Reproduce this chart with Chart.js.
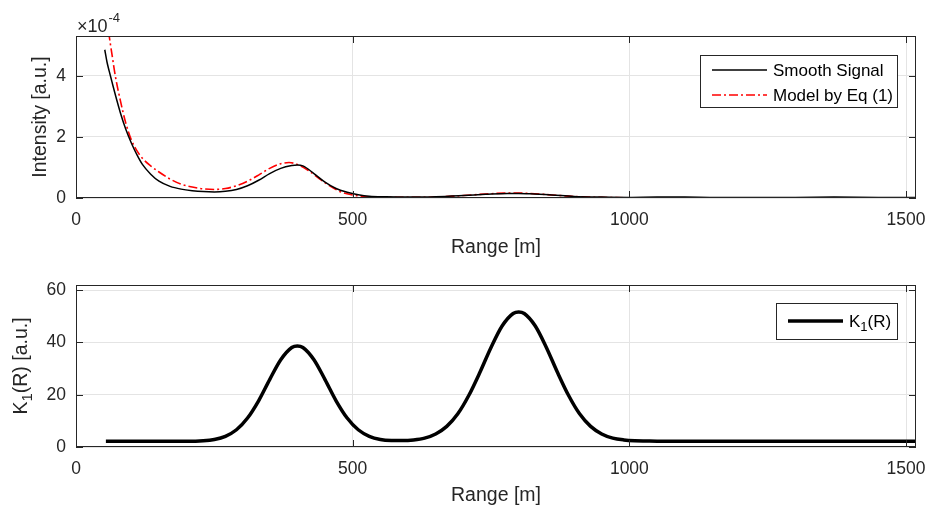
<!DOCTYPE html>
<html>
<head>
<meta charset="utf-8">
<script src="https://cdn.jsdelivr.net/npm/chart.js@4/dist/chart.umd.min.js"></script>
<style>
  html, body { margin: 0; padding: 0; background: #fff; }
  #wrap { position: relative; width: 929px; height: 506px; }
  .panel { position: absolute; left: 0; width: 929px; }
</style>
</head>
<body>
<div id="wrap">
  <div class="panel" style="top:0;height:260px"><canvas id="topChart"></canvas></div>
  <div class="panel" style="top:260px;height:246px"><canvas id="bottomChart"></canvas></div>
</div>
<script>
// --- Data ---

// Top panel: intensity, in units of 1e-4
const smoothRange = [52, 56, 60, 65, 70, 80, 90, 100, 110, 120, 135, 150, 170, 190, 210, 230, 250, 270, 290, 310,
  330, 350, 370, 390, 400, 410, 430, 450, 470, 490, 510, 530, 560, 600, 650, 700, 740, 780, 800, 820,
  860, 900, 950, 1000, 1050, 1100, 1150, 1200, 1300, 1370, 1450, 1518];
const smoothSignal = [4.85, 4.45, 4.15, 3.8, 3.45, 2.8, 2.25, 1.8, 1.42, 1.1, 0.78, 0.55, 0.38, 0.29, 0.24, 0.21, 0.2, 0.22, 0.28, 0.40,
  0.58, 0.80, 0.97, 1.06, 1.08, 1.05, 0.8, 0.52, 0.31, 0.19, 0.11, 0.06, 0.04, 0.03, 0.04, 0.08, 0.12, 0.15, 0.15, 0.14,
  0.1, 0.05, 0.03, 0.02, 0.03, 0.03, 0.02, 0.02, 0.02, 0.03, 0.02, 0.02];

const modelRange = [55, 60, 65, 71, 80, 90, 100, 110, 120, 135, 150, 170, 190, 210, 230, 250, 270, 290, 310, 330,
  350, 370, 385, 400, 420, 440, 460, 480, 500, 520, 550, 600, 650, 700, 740, 780, 800, 820, 860, 900,
  950, 1000, 1100, 1200, 1300, 1400, 1518];
const modelSignal = [6.0, 5.3, 4.7, 4.0, 3.2, 2.45, 1.9, 1.55, 1.3, 1.05, 0.85, 0.62, 0.45, 0.36, 0.3, 0.28, 0.31, 0.40, 0.55, 0.75,
  0.97, 1.12, 1.16, 1.10, 0.9, 0.63, 0.38, 0.19, 0.1, 0.05, 0.03, 0.02, 0.03, 0.08, 0.13, 0.16, 0.16, 0.15, 0.1, 0.05,
  0.02, 0.01, 0.01, 0.01, 0.01, 0.01, 0.01];

// Bottom panel: K1(R)
const k1Range = [54, 100, 150, 200, 230, 250, 270, 290, 310, 330, 350, 370, 390, 400, 410, 430, 450, 470, 490, 510,
  530, 550, 570, 590, 610, 630, 650, 670, 690, 710, 730, 750, 770, 790, 800, 810, 830, 850, 870, 890,
  910, 930, 950, 970, 990, 1010, 1030, 1060, 1200, 1350, 1518];
const k1Values = [2.2, 2.2, 2.2, 2.2, 2.4, 2.9, 4.1, 6.6, 11.1, 17.7, 25.8, 33.4, 38.1, 38.7, 38.1, 33.4, 25.8, 17.7, 11.1, 6.6,
  4.1, 2.9, 2.5, 2.45, 2.7, 3.4, 5.0, 7.9, 12.7, 19.8, 28.6, 38.1, 46.3, 51.1, 51.7, 51.1, 46.3, 38.1, 28.6, 19.8,
  12.7, 7.9, 5.0, 3.4, 2.7, 2.4, 2.3, 2.2, 2.2, 2.2, 2.2];

// Ticks
const rangeTicks = [0, 500, 1000, 1500];
const intensityTicks = [0, 2, 4];
const k1Ticks = [0, 20, 40, 60];
const intensityExponent = '-4';

// --- Shared look ---
const FONT = '"Liberation Sans", Arial, Helvetica, sans-serif';
const AXIS_COLOR = '#262626';
const GRID_COLOR = '#e4e4e4';

const toPoints = (xs, ys) => xs.map((x, i) => ({ x: x, y: ys[i] }));

// Draw text where unicode subscript digits become real lowered, smaller digits
const SUBS = '\u2080\u2081\u2082\u2083\u2084\u2085\u2086\u2087\u2088\u2089';
function fillRichText(ctx, text, x, y, size) {
  let cx = x;
  for (const ch of text) {
    const k = SUBS.indexOf(ch);
    if (k >= 0) {
      ctx.font = Math.round(size * 0.75) + 'px ' + FONT;
      ctx.fillText(String(k), cx, y + size * 0.3);
      cx += ctx.measureText(String(k)).width;
    } else {
      ctx.font = size + 'px ' + FONT;
      ctx.fillText(ch, cx, y);
      cx += ctx.measureText(ch).width;
    }
  }
  return cx - x;
}
function measureRichText(ctx, text, size) {
  ctx.save();
  let w = 0;
  for (const ch of text) {
    const k = SUBS.indexOf(ch);
    ctx.font = (k >= 0 ? Math.round(size * 0.75) : size) + 'px ' + FONT;
    w += ctx.measureText(k >= 0 ? String(k) : ch).width;
  }
  ctx.restore();
  return w;
}

// Box around the axes plus inward tick marks, MATLAB style
const matlabAxes = {
  id: 'matlabAxes',
  afterDatasetsDraw(chart) {
    const { ctx, chartArea: a, scales: { x, y } } = chart;
    const len = 7;
    ctx.save();
    ctx.strokeStyle = AXIS_COLOR;
    ctx.lineWidth = 1;
    ctx.beginPath();
    x.ticks.forEach(t => {
      const px = Math.round(x.getPixelForValue(t.value)) + 0.5;
      ctx.moveTo(px, a.bottom); ctx.lineTo(px, a.bottom - len);
      ctx.moveTo(px, a.top); ctx.lineTo(px, a.top + len);
    });
    y.ticks.forEach(t => {
      const py = Math.round(y.getPixelForValue(t.value)) + 0.5;
      ctx.moveTo(a.left, py); ctx.lineTo(a.left + len, py);
      ctx.moveTo(a.right, py); ctx.lineTo(a.right - len, py);
    });
    ctx.stroke();
    ctx.strokeRect(Math.round(a.left) + 0.5, Math.round(a.top) + 0.5,
      Math.round(a.width) - 1, Math.round(a.height) - 1);
    ctx.restore();
  }
};

// Boxed legend inside the axes, top right
const boxLegend = {
  id: 'boxLegend',
  afterDraw(chart, args, opts) {
    const { ctx, chartArea: a } = chart;
    const left = a.right - opts.right - opts.width;
    const top = a.top + opts.top;
    ctx.save();
    ctx.fillStyle = '#fff';
    ctx.fillRect(left, top, opts.width, opts.height);
    ctx.strokeStyle = AXIS_COLOR;
    ctx.lineWidth = 1;
    ctx.strokeRect(Math.round(left) + 0.5, Math.round(top) + 0.5, opts.width, opts.height);
    ctx.textBaseline = 'middle';
    ctx.fillStyle = '#000';
    chart.data.datasets.forEach((ds, i) => {
      const cy = top + opts.firstRow + i * opts.rowGap;
      ctx.save();
      ctx.strokeStyle = ds.borderColor;
      ctx.lineWidth = ds.borderWidth;
      ctx.setLineDash(ds.borderDash || []);
      ctx.beginPath();
      ctx.moveTo(left + 12, cy);
      ctx.lineTo(left + 67, cy);
      ctx.stroke();
      ctx.restore();
      fillRichText(ctx, ds.label, left + 73, cy + 1, opts.fontSize);
    });
    ctx.restore();
  }
};

// "x10^-4" multiplier above the intensity axis
const exponentLabel = {
  id: 'exponentLabel',
  afterDraw(chart, args, opts) {
    if (!opts.text) return;
    const { ctx, chartArea: a } = chart;
    ctx.save();
    ctx.fillStyle = AXIS_COLOR;
    ctx.textBaseline = 'alphabetic';
    ctx.font = '18px ' + FONT;
    const base = '\u00d710';
    ctx.fillText(base, a.left + 1, a.top - 4);
    const w = ctx.measureText(base).width;
    ctx.font = '13px ' + FONT;
    ctx.fillText(opts.text, a.left + 1 + w + 1, a.top - 14);
    ctx.restore();
  }
};

// Rotated y-axis title that can carry a subscript
const richYTitle = {
  id: 'richYTitle',
  afterDraw(chart, args, opts) {
    if (!opts.text) return;
    const { ctx, chartArea: a } = chart;
    const w = measureRichText(ctx, opts.text, opts.fontSize);
    ctx.save();
    ctx.translate(opts.x, (a.top + a.bottom) / 2);
    ctx.rotate(-Math.PI / 2);
    ctx.fillStyle = AXIS_COLOR;
    ctx.textBaseline = 'middle';
    fillRichText(ctx, opts.text, -w / 2, 0, opts.fontSize);
    ctx.restore();
  }
};

function xScale(height, titlePad) {
  return {
    type: 'linear',
    min: 0,
    max: 1518,
    afterBuildTicks: s => { s.ticks = rangeTicks.map(v => ({ value: v })); },
    afterFit: s => { s.height = height; s.paddingLeft = 0; s.paddingRight = 0; },
    grid: { color: GRID_COLOR, drawTicks: false },
    border: { display: false },
    ticks: { color: AXIS_COLOR, font: { family: FONT, size: 17.5 }, padding: 12, maxRotation: 0, autoSkip: false,
      callback: v => String(v) },
    title: { display: true, text: 'Range [m]', color: AXIS_COLOR, font: { family: FONT, size: 19.5, lineHeight: 1.0 }, padding: { top: 0, bottom: titlePad } }
  };
}

function yScale(max, ticks, title, titlePad) {
  return {
    type: 'linear',
    min: 0,
    max: max,
    afterBuildTicks: s => { s.ticks = ticks.map(v => ({ value: v })); },
    afterFit: s => { s.width = 76; s.paddingTop = 0; s.paddingBottom = 0; },
    grid: { color: GRID_COLOR, drawTicks: false },
    border: { display: false },
    ticks: { color: AXIS_COLOR, font: { family: FONT, size: 17.5 }, padding: 10, callback: v => String(v) },
    title: { display: !!title, text: title || '', color: AXIS_COLOR, font: { family: FONT, size: 19.5, lineHeight: 1.0 }, padding: { top: titlePad, bottom: 0 } }
  };
}

const baseOptions = {
  responsive: true,
  maintainAspectRatio: false,
  animation: false,
  devicePixelRatio: 1,
  events: [],
  elements: { point: { radius: 0 }, line: { cubicInterpolationMode: 'monotone' } }
};

// --- Top chart ---
new Chart(document.getElementById('topChart'), {
  type: 'line',
  data: {
    datasets: [
      { label: 'Smooth Signal', data: toPoints(smoothRange, smoothSignal), borderColor: '#000000', borderWidth: 1.5, fill: false },
      { label: 'Model by Eq (1)', data: toPoints(modelRange, modelSignal), borderColor: '#ff0000', borderWidth: 1.6, borderDash: [9, 3, 2, 3], fill: false }
    ]
  },
  options: Object.assign({}, baseOptions, {
    layout: { padding: { top: 36, right: 13, left: 0, bottom: 0 } },
    scales: {
      x: xScale(62, 3),
      y: yScale(5.3, intensityTicks, 'Intensity [a.u.]', 31)
    },
    plugins: {
      legend: { display: false },
      tooltip: { enabled: false },
      boxLegend: { right: 19, top: 19, width: 197, height: 52, firstRow: 15, rowGap: 25, fontSize: 17 },
      exponentLabel: { text: intensityExponent }
    }
  }),
  plugins: [matlabAxes, boxLegend, exponentLabel]
});

// --- Bottom chart ---
new Chart(document.getElementById('bottomChart'), {
  type: 'line',
  data: {
    datasets: [
      { label: 'K\u2081(R)', data: toPoints(k1Range, k1Values), borderColor: '#000000', borderWidth: 3.5, fill: false }
    ]
  },
  options: Object.assign({}, baseOptions, {
    layout: { padding: { top: 25, right: 13, left: 0, bottom: 0 } },
    scales: {
      x: xScale(59, 1),
      y: yScale(62, k1Ticks, null, 0)
    },
    plugins: {
      legend: { display: false },
      tooltip: { enabled: false },
      boxLegend: { right: 19, top: 18, width: 121, height: 36, firstRow: 18, rowGap: 25, fontSize: 17 },
      richYTitle: { text: 'K\u2081(R) [a.u.]', x: 22, fontSize: 19.5 }
    }
  }),
  plugins: [matlabAxes, boxLegend, richYTitle]
});
</script>
</body>
</html>
